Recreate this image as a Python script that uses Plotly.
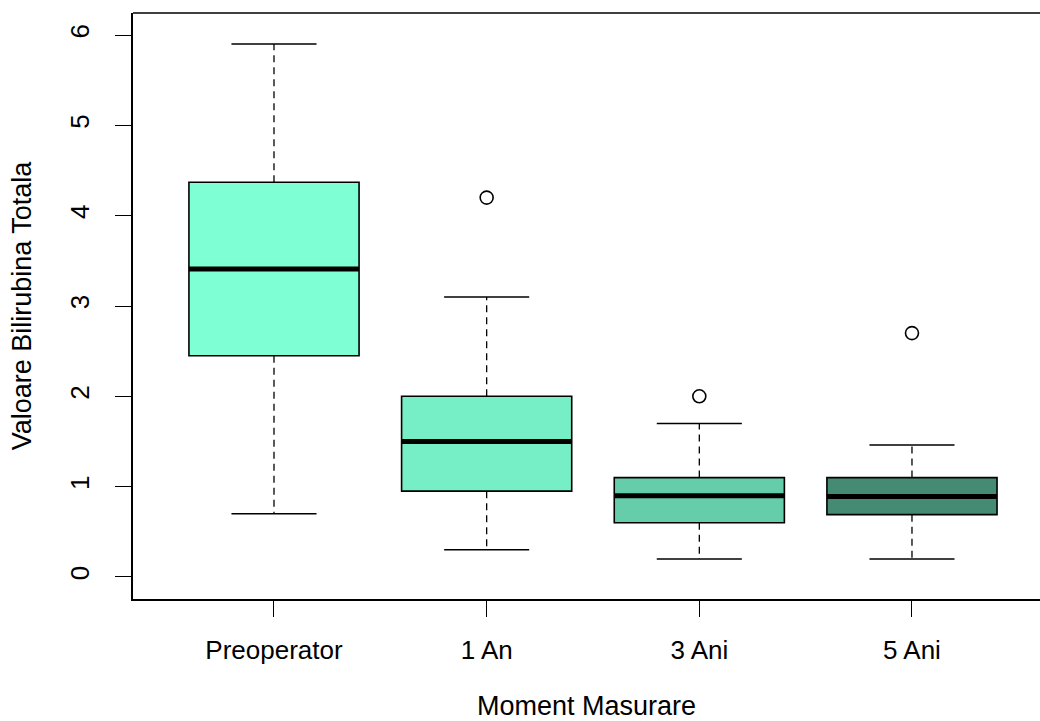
import plotly.graph_objects as go

categories = ["Preoperator", "1 An", "3 Ani", "5 Ani"]
lower_whisker = [0.7, 0.3, 0.2, 0.2]
q1_values = [2.45, 0.95, 0.6, 0.69]
median_values = [3.41, 1.5, 0.9, 0.89]
q3_values = [4.37, 2.0, 1.1, 1.1]
upper_whisker = [5.9, 3.1, 1.7, 1.46]
outlier_x = ["1 An", "3 Ani", "5 Ani"]
outlier_y = [4.2, 2.0, 2.7]
fill_colors = ["#7FFFD4", "#76EEC6", "#66CDAA", "#458B74"]

pos = list(range(len(categories)))
idx = {c: i for i, c in enumerate(categories)}
FONT = "Liberation Sans, Arial, sans-serif"

fig = go.Figure()

# dashed whiskers
wx, wy = [], []
for i in pos:
    wx += [i, i, None, i, i, None]
    wy += [q3_values[i], upper_whisker[i], None, q1_values[i], lower_whisker[i], None]
fig.add_trace(go.Scatter(x=wx, y=wy, mode="lines",
                         line=dict(color="black", width=1.3, dash="7px,5px"),
                         hoverinfo="skip", showlegend=False))

# whisker caps
cx, cy = [], []
for i in pos:
    cx += [i - 0.2, i + 0.2, None, i - 0.2, i + 0.2, None]
    cy += [upper_whisker[i], upper_whisker[i], None, lower_whisker[i], lower_whisker[i], None]
fig.add_trace(go.Scatter(x=cx, y=cy, mode="lines",
                         line=dict(color="black", width=1.5),
                         hoverinfo="skip", showlegend=False))

# boxes
for i in pos:
    fig.add_trace(go.Box(
        x=[i], q1=[q1_values[i]], median=[median_values[i]], q3=[q3_values[i]],
        lowerfence=[q1_values[i]], upperfence=[q3_values[i]],
        width=0.8, whiskerwidth=0, fillcolor=fill_colors[i],
        line=dict(color="black", width=1.6), name=categories[i],
        showlegend=False, boxpoints=False))

# thick medians
mx, my = [], []
for i in pos:
    mx += [i - 0.4, i + 0.4, None]
    my += [median_values[i], median_values[i], None]
fig.add_trace(go.Scatter(x=mx, y=my, mode="lines",
                         line=dict(color="black", width=5),
                         hoverinfo="skip", showlegend=False))

# outliers
fig.add_trace(go.Scatter(x=[idx[c] for c in outlier_x], y=outlier_y, mode="markers",
                         marker=dict(symbol="circle-open", size=13, color="black",
                                     line=dict(width=1.6, color="black")),
                         showlegend=False))

fig.update_layout(
    width=1040, height=721,
    margin=dict(l=133, r=0, t=13, b=122),
    paper_bgcolor="white", plot_bgcolor="white",
    font=dict(family=FONT, size=26, color="black"),
    xaxis=dict(range=[-0.663, 3.602], tickmode="array", tickvals=pos, ticktext=categories,
               showgrid=False, zeroline=False, showline=True, linecolor="black", linewidth=1.5,
               ticks="outside", ticklen=16, tickwidth=1.3, tickcolor="black",
               ticklabelstandoff=11, tickfont=dict(size=26),
               title=dict(text="Moment Masurare", font=dict(size=27), standoff=36)),
    yaxis=dict(range=[-0.244, 6.244], tickmode="array", tickvals=[0, 1, 2, 3, 4, 5, 6],
               showgrid=False, zeroline=False, showline=True, linecolor="black", linewidth=1.5,
               ticks="outside", ticklen=16, tickwidth=1.3, tickcolor="black",
               tickangle=-90, ticklabelstandoff=16, tickfont=dict(size=26),
               title=dict(text="Valoare Bilirubina Totala", font=dict(size=27), standoff=25)),
    shapes=[dict(type="line", xref="paper", yref="paper", x0=0, x1=1, y0=1, y1=1,
                 line=dict(color="black", width=1.5))],
)

fig.write_html("out.html")
